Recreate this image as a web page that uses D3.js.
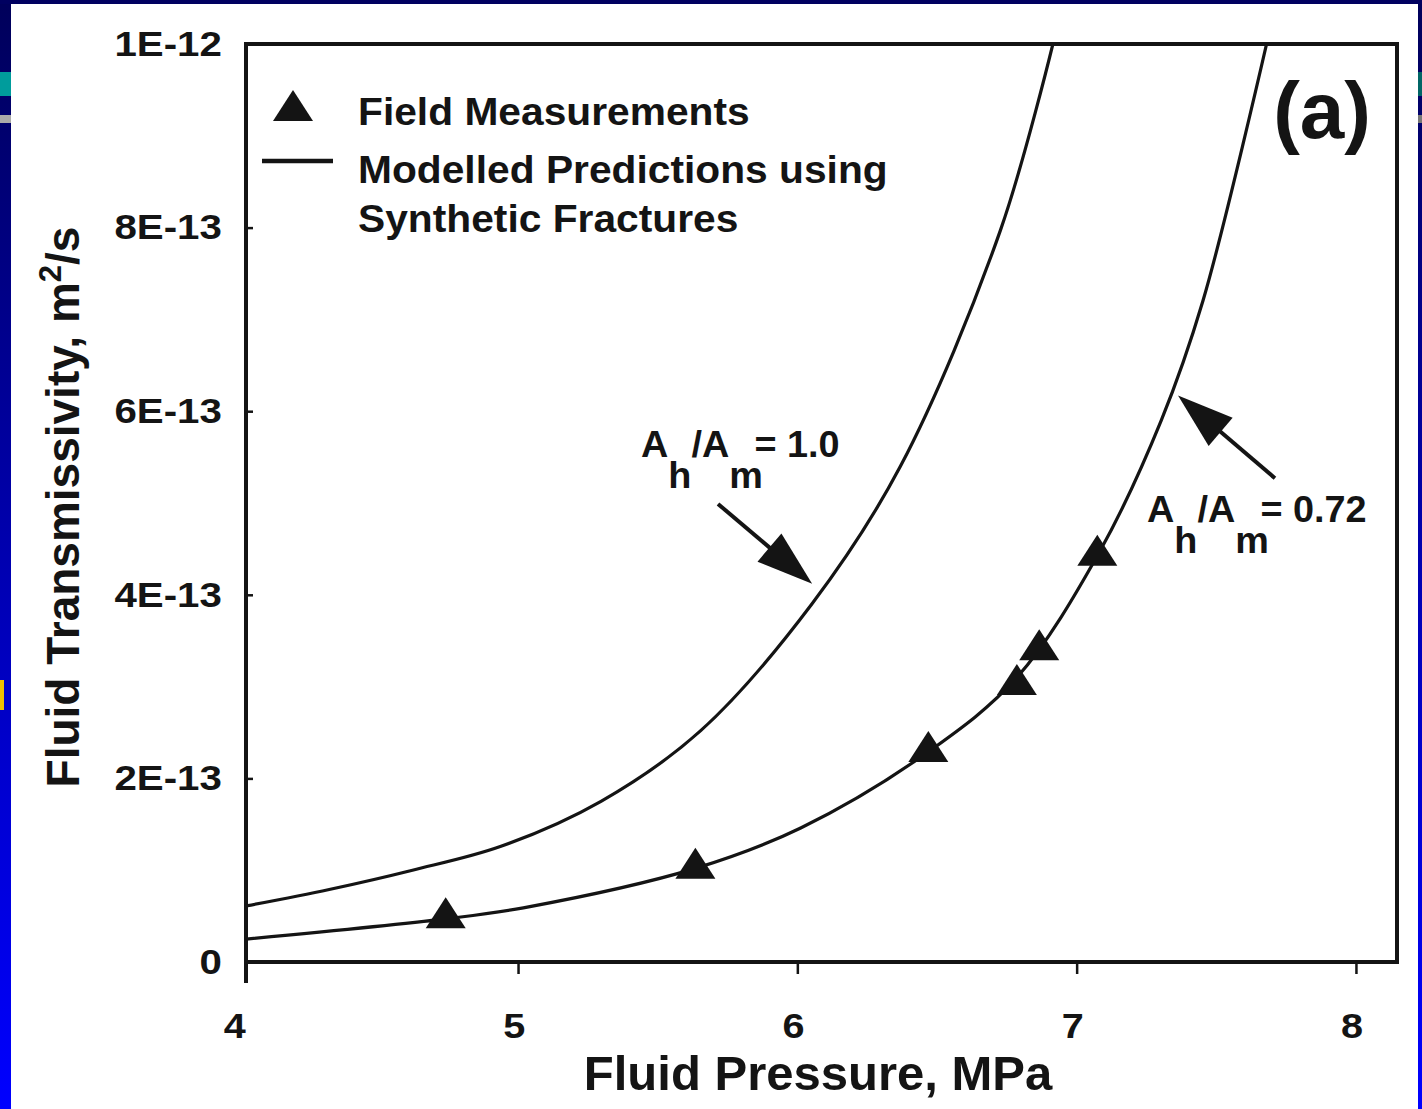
<!DOCTYPE html>
<html><head><meta charset="utf-8">
<script src="https://cdn.jsdelivr.net/npm/d3@7"></script>
<style>
body{margin:0;background:#fff}
svg{display:block}
text{font-family:"Liberation Sans",Arial,Helvetica,sans-serif;font-weight:bold;fill:#141414}
</style>
</head><body><svg id="c" width="1422" height="1109"></svg>
<script>
// ---- data ----
const xTickValues = [4, 5, 6, 7, 8];
const yTickValues = [0, 2e-13, 4e-13, 6e-13, 8e-13, 1e-12];
const yTickLabels = ["0", "2E-13", "4E-13", "6E-13", "8E-13", "1E-12"];

const fieldPressure = [4.741, 5.635, 6.469, 6.786, 6.866, 7.074];
const fieldTransmissivity = [0.48e-13, 1.02e-13, 2.29e-13, 3.02e-13, 3.40e-13, 4.43e-13];

const model100Pressure = [4.026, 4.324, 4.622, 4.939, 5.297, 5.654, 6.052, 6.369, 6.727, 6.915];
const model100Transmissivity = [0.61e-13, 0.79e-13, 1.0e-13, 1.26e-13, 1.75e-13, 2.52e-13, 3.9e-13, 5.4e-13, 7.97e-13, 10.0e-13];

const model072Pressure = [4.026, 4.741, 5.019, 5.635, 6.012, 6.469, 6.786, 7.084, 7.303, 7.452, 7.68];
const model072Transmissivity = [0.25e-13, 0.47e-13, 0.59e-13, 1.02e-13, 1.46e-13, 2.29e-13, 3.1e-13, 4.48e-13, 5.9e-13, 7.2e-13, 10.0e-13];

const legendLabels = ["Field Measurements", "Modelled Predictions using", "Synthetic Fractures"];
const xTitle = "Fluid Pressure, MPa";
const panelLabel = "(a)";

// ---- layout ----
const svg = d3.select("#c");
const L = 246, T = 44, R = 1397, B = 962;
const x = d3.scaleLinear().domain([4.026, 8.147]).range([L, R]);
const y = d3.scaleLinear().domain([0, 1e-12]).range([B, T]);

// slide background decoration
const defs = svg.append("defs");
const g1 = defs.append("linearGradient").attr("id","blueg").attr("x1",0).attr("y1",0).attr("x2",0).attr("y2",1);
g1.append("stop").attr("offset","0%").attr("stop-color","#00005a");
g1.append("stop").attr("offset","55%").attr("stop-color","#0000b8");
g1.append("stop").attr("offset","100%").attr("stop-color","#0000ff");
svg.append("rect").attr("x",0).attr("y",0).attr("width",1422).attr("height",1109).attr("fill","#ffffff");
svg.append("rect").attr("x",0).attr("y",0).attr("width",11).attr("height",1109).attr("fill","url(#blueg)");
svg.append("rect").attr("x",1418).attr("y",0).attr("width",4).attr("height",1109).attr("fill","url(#blueg)");
svg.append("rect").attr("x",0).attr("y",0).attr("width",1422).attr("height",4).attr("fill","#000060");
svg.append("rect").attr("x",0).attr("y",72).attr("width",11).attr("height",24).attr("fill","#009c9c");
svg.append("rect").attr("x",0).attr("y",115).attr("width",11).attr("height",8).attr("fill","#aaaaaa");
svg.append("rect").attr("x",1418).attr("y",72).attr("width",4).attr("height",24).attr("fill","#006666");
svg.append("rect").attr("x",1418).attr("y",115).attr("width",4).attr("height",8).attr("fill","#777777");
svg.append("rect").attr("x",0).attr("y",680).attr("width",4).attr("height",30).attr("fill","#f0c000");

defs.append("clipPath").attr("id","plot").append("rect").attr("x",L).attr("y",T).attr("width",R-L).attr("height",B-T);

const ink = "#141414";
const FONT = '"Liberation Sans",Arial,sans-serif';

// axes
const yAxis = d3.axisLeft(y).tickValues(yTickValues).tickSize(-7).tickPadding(21)
  .tickFormat((d,i)=>yTickLabels[i]);
const gy = svg.append("g").attr("transform",`translate(${L},0)`).call(yAxis);
gy.select(".domain").remove();
gy.selectAll(".tick line").attr("stroke",ink).attr("stroke-width",2.5);
gy.selectAll(".tick text").attr("font-size",35).attr("fill",ink)
  .attr("font-family",FONT).attr("font-weight","bold").attr("transform","scale(1.15,1)");

const xAxis = d3.axisBottom(x).tickValues(xTickValues).tickSize(12).tickPadding(38).tickFormat(d3.format("d"));
const gx = svg.append("g").attr("transform",`translate(0,${B})`).call(xAxis);
gx.select(".domain").remove();
gx.selectAll(".tick line").attr("stroke",ink).attr("stroke-width",2.5)
  .attr("opacity",d=>x(d)<L?0:1);
gx.selectAll(".tick text").attr("font-size",36).attr("fill",ink).attr("dx",-4)
  .attr("font-family",FONT).attr("font-weight","bold").attr("transform","scale(1.1,1)");

// frame
svg.append("rect").attr("x",L).attr("y",T).attr("width",R-L).attr("height",B-T)
  .attr("fill","none").attr("stroke",ink).attr("stroke-width",4);
svg.append("line").attr("x1",L).attr("x2",L).attr("y1",B).attr("y2",B+21).attr("stroke",ink).attr("stroke-width",4);

// axis titles
svg.append("text").attr("x",818).attr("y",1090).attr("text-anchor","middle").attr("font-size",49).text(xTitle);
const yt = svg.append("text").attr("transform","translate(79,507) rotate(-90)").attr("text-anchor","middle").attr("font-size",46);
yt.append("tspan").text("Fluid Transmissivity, m");
yt.append("tspan").attr("font-size",31).attr("dy",-18).text("2");
yt.append("tspan").attr("dy",18).text("/s");

// curves
const line = d3.line().x(d=>x(d[0])).y(d=>y(d[1])).curve(d3.curveCatmullRom.alpha(0.5));
const plot = svg.append("g").attr("clip-path","url(#plot)");
plot.append("path").datum(d3.zip(model100Pressure, model100Transmissivity)).attr("d",line)
  .attr("fill","none").attr("stroke",ink).attr("stroke-width",3.2);
plot.append("path").datum(d3.zip(model072Pressure, model072Transmissivity)).attr("d",line)
  .attr("fill","none").attr("stroke",ink).attr("stroke-width",3.2);

// markers
const tri = (cx,cy)=>`M${cx},${cy-20.7}L${cx+20},${cy+10.3}L${cx-20},${cy+10.3}Z`;
svg.append("g").selectAll("path").data(d3.zip(fieldPressure, fieldTransmissivity)).join("path")
  .attr("d",d=>tri(x(d[0]),y(d[1]))).attr("fill",ink);

// legend
svg.append("path").attr("d",tri(293,110.7)).attr("fill",ink);
svg.append("line").attr("x1",262).attr("x2",333).attr("y1",161).attr("y2",161).attr("stroke",ink).attr("stroke-width",4.5);
[[125,0],[183,1],[232,2]].forEach(([by,i])=>{
  svg.append("text").attr("transform",`translate(358,${by}) scale(1.045,1)`).attr("font-size",39).text(legendLabels[i]);
});

// panel label
svg.append("text").attr("x",1371).attr("y",138).attr("text-anchor","end").attr("font-size",80).text(panelLabel);

// annotations
function ratioLabel(px, py, value){
  const t = svg.append("text").attr("transform",`translate(${px},${py}) scale(1.05,1)`).attr("font-size",36);
  t.append("tspan").text("A");
  t.append("tspan").attr("dy",31).text("h");
  t.append("tspan").attr("dy",-31).text("/A");
  t.append("tspan").attr("dy",31).text("m");
  t.append("tspan").attr("dy",-31).attr("x",108).text("= "+value);
}
ratioLabel(641, 457, "1.0");
ratioLabel(1147, 522, "0.72");

function arrow(x0,y0,x1,y1){
  const dx=x1-x0, dy=y1-y0, len=Math.hypot(dx,dy), ux=dx/len, uy=dy/len;
  const hl=56, hw=18.5;
  const bx=x1-ux*hl, by=y1-uy*hl;
  svg.append("line").attr("x1",x0).attr("y1",y0).attr("x2",bx+ux*4).attr("y2",by+uy*4)
    .attr("stroke",ink).attr("stroke-width",4);
  svg.append("path").attr("d",`M${x1},${y1}L${bx-uy*hw},${by+ux*hw}L${bx+uy*hw},${by-ux*hw}Z`).attr("fill",ink);
}
arrow(x(5.716), y(4.99e-13), x(6.053), y(4.12e-13));
arrow(x(7.71), y(5.27e-13), x(7.363), y(6.17e-13));
</script>
</body></html>
